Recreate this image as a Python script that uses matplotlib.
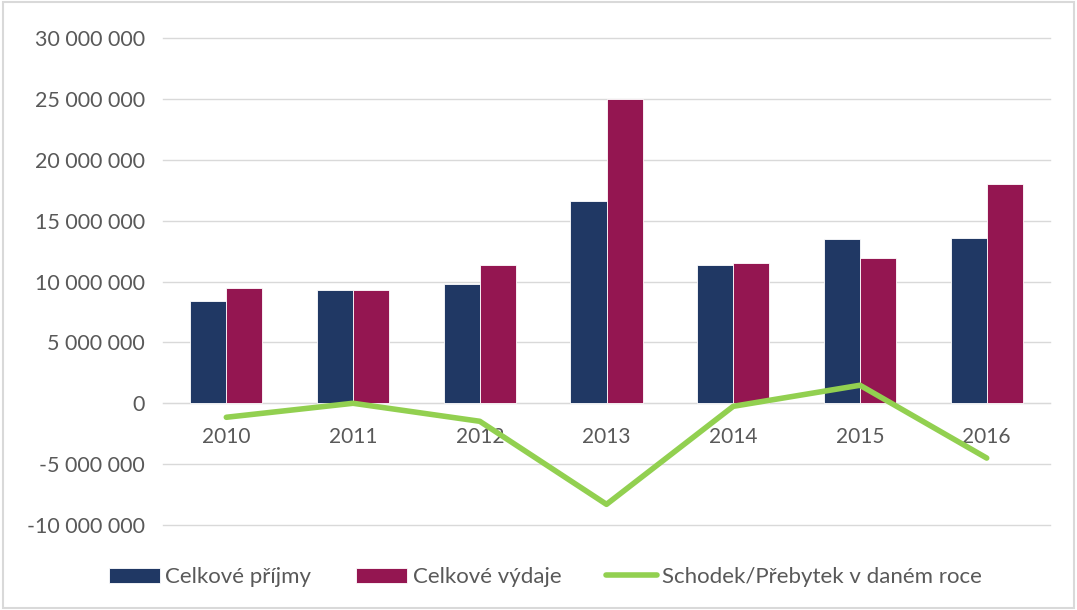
import matplotlib

matplotlib.use("Agg")

import matplotlib.pyplot as plt
import numpy as np
from matplotlib.ticker import FuncFormatter, MultipleLocator

YEARS = ["2010", "2011", "2012", "2013", "2014", "2015", "2016"]
REVENUE = [8380000, 9300000, 9800000, 16600000, 11340000, 13480000, 13560000]
EXPENSES = [9450000, 9300000, 11340000, 24980000, 11520000, 11920000, 18000000]
BALANCE = [-1150000, 0, -1480000, -8300000, -250000, 1480000, -4500000]

NAVY = "#203864"
CRIMSON = "#941651"
GREEN = "#92D050"
TEXT = "#595959"
GRID = "#D9D9D9"

plt.rcParams["font.family"] = ["Lato", "DejaVu Sans"]


def fmt(v, _):
    return f"{int(v):,}".replace(",", " ")


fig = plt.figure(figsize=(10.77, 6.10), dpi=100)
ax = fig.add_axes([0.1513, 0.1393, 0.8237, 0.7984])

x = np.arange(len(YEARS))
w = 0.285
bars_rev = ax.bar(x - w / 2, REVENUE, w, color=NAVY, edgecolor="white",
                  linewidth=0.6, label="Celkové příjmy", zorder=2)
bars_exp = ax.bar(x + w / 2, EXPENSES, w, color=CRIMSON, edgecolor="white",
                  linewidth=0.6, label="Celkové výdaje", zorder=2)
line, = ax.plot(x, BALANCE, color=GREEN, linewidth=4, solid_capstyle="round",
                label="Schodek/Přebytek v daném roce", zorder=3)

ax.set_xlim(-0.5, len(YEARS) - 0.5)
ax.set_ylim(-10000000, 30000000)
ax.yaxis.set_major_locator(MultipleLocator(5000000))
ax.yaxis.set_major_formatter(FuncFormatter(fmt))
ax.grid(axis="y", color=GRID, linewidth=1, zorder=0)
ax.set_axisbelow(True)
for gl in ax.yaxis.get_gridlines():
    gl.set_clip_on(False)

for side in ["top", "right", "left"]:
    ax.spines[side].set_visible(False)
ax.spines["bottom"].set_position(("data", 0))
ax.spines["bottom"].set_color(GRID)
ax.spines["bottom"].set_zorder(1)

ax.set_xticks(x)
ax.set_xticklabels(YEARS)
ax.tick_params(axis="x", length=0, pad=17, labelsize=15, labelcolor=TEXT)
ax.tick_params(axis="y", length=0, pad=13, labelsize=15.5, labelcolor=TEXT)

fig.legend([bars_rev, bars_exp, line],
           ["Celkové příjmy", "Celkové výdaje", "Schodek/Přebytek v daném roce"],
           loc="center", bbox_to_anchor=(0.5065, 0.054), ncol=3,
           frameon=False, fontsize=16, labelcolor=TEXT, handlelength=2.3,
           handleheight=0.65, handletextpad=0.25, columnspacing=2.0)

fig.patches.append(plt.Rectangle((0.003, 0.003), 0.994, 0.994, transform=fig.transFigure,
                                 fill=False, edgecolor=GRID, linewidth=1.5))

fig.savefig("out.png", dpi=100)
